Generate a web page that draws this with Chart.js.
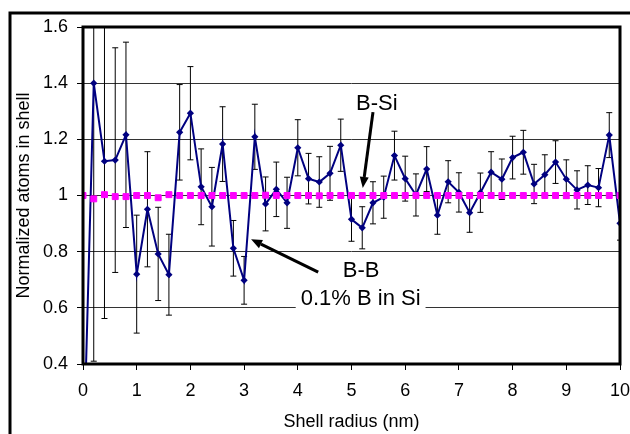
<!DOCTYPE html>
<html>
<head>
<meta charset="utf-8">
<script src="https://cdn.jsdelivr.net/npm/chart.js@4"></script>
<style>
  html, body { margin: 0; padding: 0; background: #fff; }
  canvas { display: block; }
</style>
</head>
<body>
<canvas id="Shells" width="630" height="434"></canvas>
<script>
// shell radius (nm)
const radius = [0, 0.2, 0.4, 0.6, 0.8, 1, 1.2, 1.4, 1.6, 1.8, 2, 2.2, 2.4, 2.6, 2.8, 3, 3.2, 3.4, 3.6, 3.8,
                4, 4.2, 4.4, 4.6, 4.8, 5, 5.2, 5.4, 5.6, 5.8, 6, 6.2, 6.4, 6.6, 6.8, 7, 7.2, 7.4, 7.6, 7.8,
                8, 8.2, 8.4, 8.6, 8.8, 9, 9.2, 9.4, 9.6, 9.8, 10];

// B-B normalized atoms and error
const bbValues = [0.0, 1.40, 1.122, 1.126, 1.216, 0.720, 0.951, 0.792, 0.718, 1.225, 1.293, 1.031, 0.960, 1.183, 0.812, 0.698, 1.209, 0.970, 1.022, 0.974,
                  1.170, 1.060, 1.048, 1.079, 1.179, 0.915, 0.885, 0.974, 0.994, 1.142, 1.060, 1.002, 1.094, 0.930, 1.049, 1.011, 0.939, 1.010, 1.083, 1.058,
                  1.135, 1.154, 1.041, 1.074, 1.119, 1.058, 1.020, 1.037, 1.028, 1.215, 0.901];
const bbErrors = [0, 0.99, 0.56, 0.40, 0.33, 0.21, 0.205, 0.166, 0.144, 0.17, 0.166, 0.135, 0.14, 0.133, 0.099, 0.085, 0.116, 0.096, 0.097, 0.091,
                  0.10, 0.09, 0.09, 0.096, 0.093, 0.078, 0.075, 0.075, 0.075, 0.087, 0.08, 0.075, 0.08, 0.068, 0.075, 0.07, 0.07, 0.07, 0.073, 0.072,
                  0.076, 0.078, 0.07, 0.071, 0.076, 0.069, 0.068, 0.069, 0.068, 0.08, 0.06];

// B-Si normalized atoms
const bsiValues = [1.0, 0.988, 1.003, 0.996, 0.996, 1.0, 1.0, 0.992, 1.003, 1.0, 1.0, 1.0, 1.0, 1.0, 1.0, 1.0, 1.0, 1.001, 1.0, 1.0,
                   1.0, 1.0, 0.999, 1.0, 1.0, 1.0, 1.0, 1.0, 1.0, 1.0, 1.0, 1.0, 1.0, 1.0, 1.0, 1.0, 1.0, 1.0, 1.0, 1.0,
                   1.0, 1.0, 1.0, 1.0, 1.0, 1.0, 1.0, 1.0, 1.0, 1.0, 1.0];

const yTicks = [0.4, 0.6, 0.8, 1, 1.2, 1.4, 1.6];
const xTicks = [0, 1, 2, 3, 4, 5, 6, 7, 8, 9, 10];

const FONT = '"Liberation Sans", Arial, sans-serif';

function points(xs, ys)
{
    let out = [];
    for (var i = 0; i < xs.length; i++) {
        out.push({x: xs[i], y: ys[i]});
    }
    return out;
}

// error bars for the B-B series, drawn through the chart scales
const errorBars = {
    id: 'errorBars',
    beforeDatasetsDraw(chart) {
        const ctx = chart.ctx;
        const xs = chart.scales.x, ys = chart.scales.y;
        const area = chart.chartArea;
        ctx.save();
        ctx.beginPath();
        ctx.rect(area.left, area.top, area.right - area.left, area.bottom - area.top);
        ctx.clip();
        ctx.strokeStyle = '#000';
        ctx.lineWidth = 1;
        for (var i = 0; i < radius.length; i++) {
            if (!bbErrors[i]) continue;
            const px = xs.getPixelForValue(radius[i]);
            const top = ys.getPixelForValue(bbValues[i] + bbErrors[i]);
            const bot = ys.getPixelForValue(bbValues[i] - bbErrors[i]);
            ctx.beginPath();
            ctx.moveTo(px, top); ctx.lineTo(px, bot);
            ctx.moveTo(px - 3, top); ctx.lineTo(px + 3, top);
            ctx.moveTo(px - 3, bot); ctx.lineTo(px + 3, bot);
            ctx.stroke();
        }
        ctx.restore();
    }
};

// plot border and outer frame
const frames = {
    id: 'frames',
    afterDatasetsDraw(chart) {
        const ctx = chart.ctx;
        const a = chart.chartArea;
        ctx.save();
        ctx.strokeStyle = '#000';
        ctx.lineWidth = 3;
        ctx.strokeRect(a.left, a.top, a.right - a.left, a.bottom - a.top);
        ctx.strokeRect(10, 13, chart.width + 20, chart.height + 20);
        ctx.restore();
    }
};

function arrow(ctx, x1, y1, x2, y2)
{
    const ang = Math.atan2(y2 - y1, x2 - x1);
    const len = 11, half = 4.5;
    const bx = x2 - len * Math.cos(ang), by = y2 - len * Math.sin(ang);
    ctx.beginPath();
    ctx.moveTo(x1, y1);
    ctx.lineTo(bx, by);
    ctx.stroke();
    ctx.beginPath();
    ctx.moveTo(x2, y2);
    ctx.lineTo(bx + half * Math.sin(ang), by - half * Math.cos(ang));
    ctx.lineTo(bx - half * Math.sin(ang), by + half * Math.cos(ang));
    ctx.closePath();
    ctx.fill();
}

// labels and arrows, placed in data units
const notes = {
    id: 'notes',
    afterDraw(chart) {
        const ctx = chart.ctx;
        const X = v => chart.scales.x.getPixelForValue(v);
        const Y = v => chart.scales.y.getPixelForValue(v);
        ctx.save();
        ctx.fillStyle = '#000';
        ctx.strokeStyle = '#000';
        ctx.lineWidth = 3;
        ctx.font = '22px ' + FONT;
        ctx.textAlign = 'center';
        ctx.textBaseline = 'middle';

        ctx.fillText('B-Si', X(5.47), Y(1.326));
        arrow(ctx, X(5.40), Y(1.297), X(5.21), Y(1.027));

        ctx.fillText('B-B', X(5.18), Y(0.732));
        arrow(ctx, X(4.38), Y(0.727), X(3.13), Y(0.844));

        const label = '0.1% B in Si';
        const w = ctx.measureText(label).width;
        ctx.fillStyle = '#fff';
        ctx.fillRect(X(5.17) - w / 2 - 5, Y(0.63) - 12, w + 10, 24);
        ctx.fillStyle = '#000';
        ctx.fillText(label, X(5.17), Y(0.63));
        ctx.restore();
    }
};

const ctx = document.getElementById('Shells').getContext('2d');
const chart = new Chart(ctx, {
    type: 'scatter',
    data: {
        datasets: [
            {
                label: 'B-Si',
                data: points(radius, bsiValues),
                showLine: false,
                pointStyle: 'rect',
                pointRadius: 4.2,
                backgroundColor: '#ff00ff',
                borderColor: '#ff00ff',
                borderWidth: 1
            },
            {
                label: 'B-B',
                data: points(radius, bbValues),
                showLine: true,
                tension: 0,
                borderColor: '#000080',
                borderWidth: 2,
                pointStyle: 'rectRot',
                pointRadius: 3.6,
                pointBackgroundColor: '#000080',
                pointBorderColor: '#000080',
                pointBorderWidth: 0
            }
        ]
    },
    options: {
        responsive: false,
        animation: false,
        layout: { padding: { left: 0, top: 27, right: 10, bottom: 0 } },
        plugins: {
            legend: { display: false },
            tooltip: { enabled: false }
        },
        scales: {
            x: {
                type: 'linear',
                min: 0, max: 10,
                afterFit: function(s) { s.height = 70; s.paddingLeft = 0; s.paddingRight = 0; },
                afterBuildTicks: function(s) { s.ticks = xTicks.map(v => ({value: v})); },
                border: { display: false },
                grid: { drawOnChartArea: false, drawTicks: true, tickLength: 6, tickColor: '#000', lineWidth: 1 },
                ticks: { color: '#000', padding: 10, maxRotation: 0, font: { family: FONT, size: 18 } },
                title: { display: true, text: 'Shell radius (nm)', color: '#000',
                         font: { family: FONT, size: 18 }, padding: { top: 0, bottom: 1 } }
            },
            y: {
                min: 0.4, max: 1.6,
                afterFit: function(s) { s.width = 83; s.paddingTop = 0; s.paddingBottom = 0; },
                afterBuildTicks: function(s) { s.ticks = yTicks.map(v => ({value: v})); },
                border: { display: false },
                grid: { color: '#333', lineWidth: 1, tickLength: 6, tickColor: '#000' },
                ticks: { color: '#000', padding: 9, font: { family: FONT, size: 18 },
                         callback: v => String(+v.toFixed(1)) },
                title: { display: true, text: 'Normalized atoms in shell', color: '#000',
                         font: { family: FONT, size: 18 }, padding: { top: 13, bottom: 0 } }
            }
        }
    },
    plugins: [errorBars, frames, notes]
});
</script>
</body>
</html>
